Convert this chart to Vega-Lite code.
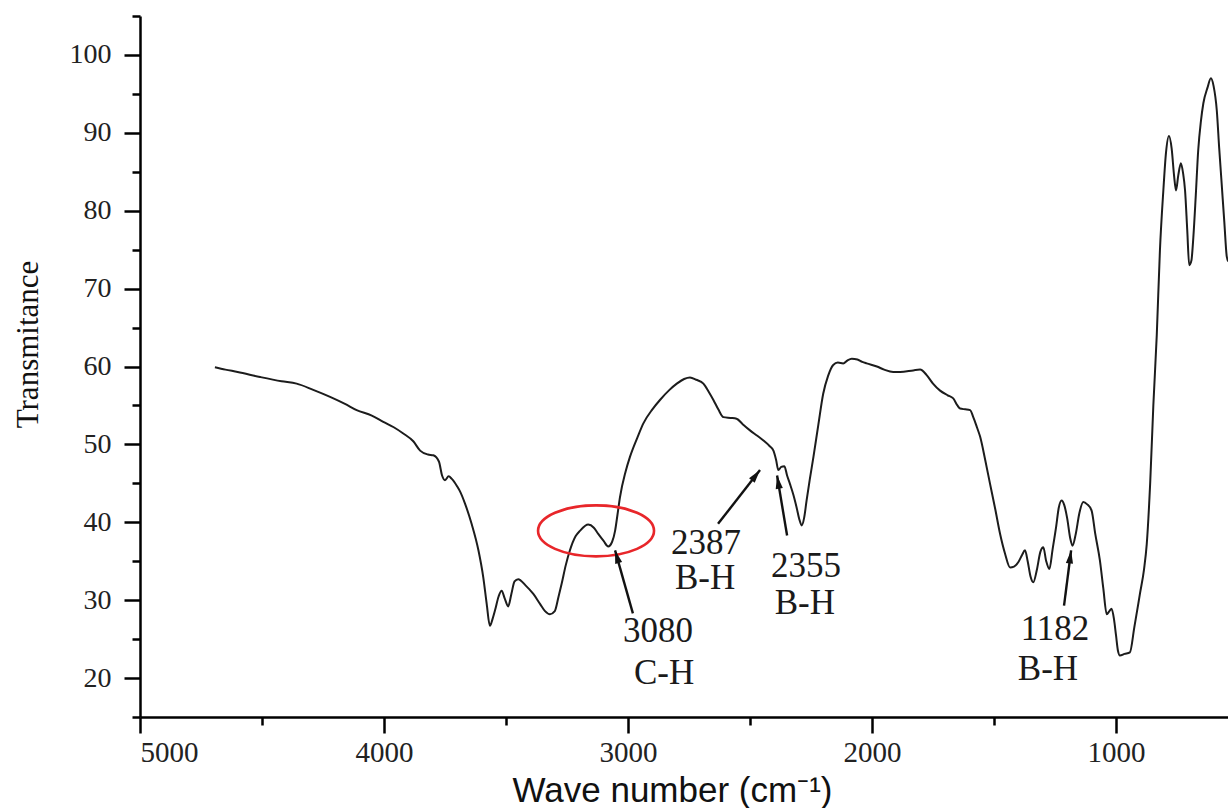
{
  "$schema": "https://vega.github.io/schema/vega-lite/v6.json",
  "autosize": "none",
  "width": 1088,
  "height": 701,
  "padding": {"left": 140, "top": 16, "right": 0, "bottom": 91},
  "background": "white",
  "config": {
    "view": {"stroke": null},
    "axis": {"grid": false, "domainColor": "#000", "domainWidth": 2.5, "tickColor": "#000", "tickWidth": 2.5, "labelColor": "#222", "titleColor": "#111"}
  },
  "datasets": {
    "spectrum": [
      {"wn": 4693, "T": 59.9}, {"wn": 4650, "T": 59.6}, {"wn": 4600, "T": 59.3}, {"wn": 4508, "T": 58.65},
      {"wn": 4420, "T": 58.1}, {"wn": 4358, "T": 57.8}, {"wn": 4290, "T": 57.0}, {"wn": 4221, "T": 56.1},
      {"wn": 4160, "T": 55.2}, {"wn": 4112, "T": 54.4}, {"wn": 4050, "T": 53.7}, {"wn": 4003, "T": 52.9},
      {"wn": 3960, "T": 52.2}, {"wn": 3921, "T": 51.4}, {"wn": 3880, "T": 50.4}, {"wn": 3852, "T": 49.2},
      {"wn": 3820, "T": 48.7}, {"wn": 3798, "T": 48.6}, {"wn": 3775, "T": 47.8}, {"wn": 3762, "T": 46.0},
      {"wn": 3750, "T": 45.4}, {"wn": 3735, "T": 45.9}, {"wn": 3723, "T": 45.6}, {"wn": 3700, "T": 44.6},
      {"wn": 3689, "T": 44.0}, {"wn": 3668, "T": 42.4}, {"wn": 3641, "T": 39.8}, {"wn": 3613, "T": 36.4},
      {"wn": 3593, "T": 32.9}, {"wn": 3579, "T": 29.5}, {"wn": 3566, "T": 26.7}, {"wn": 3555, "T": 27.6},
      {"wn": 3545, "T": 28.7}, {"wn": 3530, "T": 30.5}, {"wn": 3518, "T": 31.2}, {"wn": 3505, "T": 30.2},
      {"wn": 3491, "T": 29.2}, {"wn": 3478, "T": 30.8}, {"wn": 3465, "T": 32.4}, {"wn": 3450, "T": 32.7},
      {"wn": 3420, "T": 31.9}, {"wn": 3388, "T": 30.8}, {"wn": 3360, "T": 29.5}, {"wn": 3340, "T": 28.6},
      {"wn": 3320, "T": 28.2}, {"wn": 3300, "T": 28.6}, {"wn": 3285, "T": 30.4}, {"wn": 3272, "T": 32.1},
      {"wn": 3255, "T": 34.5}, {"wn": 3238, "T": 36.4}, {"wn": 3215, "T": 38.2}, {"wn": 3197, "T": 38.9},
      {"wn": 3163, "T": 39.7}, {"wn": 3140, "T": 39.3}, {"wn": 3122, "T": 38.5}, {"wn": 3100, "T": 37.6},
      {"wn": 3081, "T": 36.9}, {"wn": 3065, "T": 37.5}, {"wn": 3053, "T": 38.9}, {"wn": 3043, "T": 41.0},
      {"wn": 3033, "T": 43.2}, {"wn": 3010, "T": 46.5}, {"wn": 2992, "T": 48.4}, {"wn": 2960, "T": 51.0},
      {"wn": 2937, "T": 52.7}, {"wn": 2900, "T": 54.5}, {"wn": 2869, "T": 55.7}, {"wn": 2830, "T": 57.0},
      {"wn": 2800, "T": 57.8}, {"wn": 2770, "T": 58.4}, {"wn": 2746, "T": 58.6}, {"wn": 2720, "T": 58.3},
      {"wn": 2691, "T": 57.8}, {"wn": 2670, "T": 56.8}, {"wn": 2650, "T": 55.7}, {"wn": 2630, "T": 54.5},
      {"wn": 2609, "T": 53.5}, {"wn": 2580, "T": 53.4}, {"wn": 2555, "T": 53.3}, {"wn": 2530, "T": 52.6},
      {"wn": 2500, "T": 51.8}, {"wn": 2470, "T": 51.1}, {"wn": 2445, "T": 50.5}, {"wn": 2420, "T": 49.8},
      {"wn": 2404, "T": 49.2}, {"wn": 2393, "T": 48.0}, {"wn": 2384, "T": 46.7}, {"wn": 2372, "T": 47.1},
      {"wn": 2359, "T": 47.2}, {"wn": 2348, "T": 46.0}, {"wn": 2336, "T": 44.9}, {"wn": 2322, "T": 43.5},
      {"wn": 2309, "T": 41.9}, {"wn": 2298, "T": 40.4}, {"wn": 2288, "T": 39.6}, {"wn": 2278, "T": 40.6},
      {"wn": 2268, "T": 42.8}, {"wn": 2255, "T": 45.5}, {"wn": 2240, "T": 48.4}, {"wn": 2220, "T": 52.5},
      {"wn": 2200, "T": 56.5}, {"wn": 2180, "T": 58.8}, {"wn": 2159, "T": 60.2}, {"wn": 2140, "T": 60.5},
      {"wn": 2118, "T": 60.4}, {"wn": 2100, "T": 60.8}, {"wn": 2083, "T": 61.0}, {"wn": 2060, "T": 60.9},
      {"wn": 2040, "T": 60.6}, {"wn": 2022, "T": 60.4}, {"wn": 1980, "T": 60.0}, {"wn": 1950, "T": 59.6},
      {"wn": 1913, "T": 59.3}, {"wn": 1885, "T": 59.3}, {"wn": 1831, "T": 59.5}, {"wn": 1803, "T": 59.6},
      {"wn": 1776, "T": 58.9}, {"wn": 1750, "T": 57.8}, {"wn": 1721, "T": 56.9}, {"wn": 1690, "T": 56.3},
      {"wn": 1667, "T": 55.9}, {"wn": 1650, "T": 55.0}, {"wn": 1639, "T": 54.6}, {"wn": 1618, "T": 54.5},
      {"wn": 1598, "T": 54.4}, {"wn": 1585, "T": 53.5}, {"wn": 1570, "T": 52.2}, {"wn": 1557, "T": 51.0},
      {"wn": 1536, "T": 48.0}, {"wn": 1516, "T": 44.9}, {"wn": 1495, "T": 41.7}, {"wn": 1475, "T": 38.5},
      {"wn": 1455, "T": 36.0}, {"wn": 1434, "T": 34.2}, {"wn": 1418, "T": 34.3}, {"wn": 1400, "T": 34.9},
      {"wn": 1385, "T": 35.8}, {"wn": 1373, "T": 36.4}, {"wn": 1362, "T": 35.0}, {"wn": 1350, "T": 33.0},
      {"wn": 1339, "T": 32.3}, {"wn": 1325, "T": 33.8}, {"wn": 1310, "T": 36.2}, {"wn": 1298, "T": 36.8},
      {"wn": 1286, "T": 35.0}, {"wn": 1273, "T": 34.0}, {"wn": 1260, "T": 36.5}, {"wn": 1245, "T": 39.5},
      {"wn": 1235, "T": 41.8}, {"wn": 1223, "T": 42.8}, {"wn": 1212, "T": 42.2}, {"wn": 1200, "T": 40.5},
      {"wn": 1188, "T": 38.0}, {"wn": 1178, "T": 37.0}, {"wn": 1165, "T": 38.5}, {"wn": 1150, "T": 41.2},
      {"wn": 1134, "T": 42.6}, {"wn": 1118, "T": 42.3}, {"wn": 1100, "T": 41.5}, {"wn": 1085, "T": 38.5},
      {"wn": 1066, "T": 35.1}, {"wn": 1052, "T": 31.5}, {"wn": 1038, "T": 28.2}, {"wn": 1027, "T": 28.6},
      {"wn": 1018, "T": 28.9}, {"wn": 1008, "T": 27.5}, {"wn": 1000, "T": 25.5}, {"wn": 992, "T": 23.5},
      {"wn": 984, "T": 22.9}, {"wn": 965, "T": 23.1}, {"wn": 943, "T": 23.3}, {"wn": 925, "T": 26.5},
      {"wn": 902, "T": 30.8}, {"wn": 885, "T": 34.0}, {"wn": 874, "T": 37.2}, {"wn": 860, "T": 45.0},
      {"wn": 847, "T": 55.0}, {"wn": 833, "T": 64.0}, {"wn": 820, "T": 74.9}, {"wn": 806, "T": 82.6},
      {"wn": 795, "T": 87.5}, {"wn": 783, "T": 89.6}, {"wn": 772, "T": 88.0}, {"wn": 762, "T": 84.5},
      {"wn": 754, "T": 82.6}, {"wn": 745, "T": 84.5}, {"wn": 734, "T": 86.1}, {"wn": 725, "T": 84.8},
      {"wn": 717, "T": 82.6}, {"wn": 708, "T": 77.5}, {"wn": 700, "T": 73.0}, {"wn": 691, "T": 73.6},
      {"wn": 683, "T": 76.6}, {"wn": 673, "T": 82.0}, {"wn": 663, "T": 87.8}, {"wn": 652, "T": 91.5},
      {"wn": 642, "T": 93.8}, {"wn": 625, "T": 95.8}, {"wn": 611, "T": 97.0}, {"wn": 600, "T": 96.0},
      {"wn": 587, "T": 92.9}, {"wn": 577, "T": 88.0}, {"wn": 567, "T": 83.5}, {"wn": 556, "T": 78.5},
      {"wn": 546, "T": 74.1}, {"wn": 540, "T": 73.5}
    ],
    "arrows": [
      {"wn": 3053, "T": 36.4, "tailwn": 2980, "tailT": 28.3},
      {"wn": 2459, "T": 46.7, "tailwn": 2631, "tailT": 39.8},
      {"wn": 2389, "T": 46.0, "tailwn": 2348, "tailT": 38.3},
      {"wn": 1184, "T": 36.4, "tailwn": 1213, "tailT": 29.3}
    ],
    "labels": [
      {"wn": 2877, "T": 26.1, "label": "3080"},
      {"wn": 2852, "T": 20.7, "label": "C-H"},
      {"wn": 2680, "T": 37.4, "label": "2387"},
      {"wn": 2684, "T": 32.9, "label": "B-H"},
      {"wn": 2270, "T": 34.4, "label": "2355"},
      {"wn": 2275, "T": 29.7, "label": "B-H"},
      {"wn": 1250, "T": 26.3, "label": "1182"},
      {"wn": 1279, "T": 21.2, "label": "B-H"}
    ],
    "highlight": [
      {"wn": 3131, "T": 38.9}
    ]
  },
  "encoding": {
    "x": {
      "field": "wn", "type": "quantitative",
      "scale": {"domain": [5000, 541], "nice": false, "zero": false},
      "axis": {
        "title": "Wave number (cm⁻¹)",
        "values": [5000, 4500, 4000, 3500, 3000, 2500, 2000, 1500, 1000],
        "tickSize": {"condition": {"test": "datum.value % 1000 === 0", "value": 16}, "value": 8},
        "labelExpr": "datum.value % 1000 === 0 ? datum.label : ''",
        "format": "d",
        "labelFont": "Liberation Serif", "labelFontSize": 29, "labelPadding": 5,
        "titleFont": "Liberation Sans", "titleFontSize": 35, "titleFontWeight": "normal",
        "titleX": 532, "titleY": 84, "titleAlign": "center", "titleBaseline": "alphabetic"
      }
    },
    "y": {
      "field": "T", "type": "quantitative",
      "scale": {"domain": [15, 105], "nice": false, "zero": false},
      "axis": {
        "title": "Transmitance",
        "values": [15, 20, 25, 30, 35, 40, 45, 50, 55, 60, 65, 70, 75, 80, 85, 90, 95, 100, 105],
        "tickSize": {"condition": {"test": "datum.value % 10 === 0", "value": 16}, "value": 8},
        "labelExpr": "datum.value % 10 === 0 ? datum.label : ''",
        "labelFont": "Liberation Serif", "labelFontSize": 28, "labelPadding": 13,
        "titleFont": "Liberation Serif", "titleFontSize": 31, "titleFontWeight": "normal",
        "titleX": -112, "titleY": 328, "titleAngle": -90, "titleAlign": "center", "titleBaseline": "middle"
      }
    }
  },
  "layer": [
    {
      "data": {"name": "spectrum"},
      "mark": {"type": "line", "color": "#1c1c1c", "strokeWidth": 2, "clip": true, "interpolate": "monotone"}
    },
    {
      "data": {"name": "highlight"},
      "mark": {"type": "point", "shape": "M -1 0 A 1 0.44 0 1 0 1 0 A 1 0.44 0 1 0 -1 0 Z", "size": 13456, "filled": false, "stroke": "#e8262a", "strokeWidth": 2.6, "opacity": 1}
    },
    {
      "data": {"name": "arrows"},
      "mark": {"type": "rule", "color": "#111", "strokeWidth": 2.4},
      "encoding": {
        "x2": {"field": "tailwn"},
        "y2": {"field": "tailT"}
      }
    },
    {
      "data": {"name": "arrows"},
      "mark": {"type": "point", "shape": "M 0 0 L 0.6 2.2 L -0.6 2.2 Z", "size": 144, "filled": true, "color": "#111", "opacity": 1,
        "angle": {"expr": "atan2(scale('x', datum.wn) - scale('x', datum.tailwn), scale('y', datum.tailT) - scale('y', datum.T)) * 180 / PI"}}
    },
    {
      "data": {"name": "labels"},
      "mark": {"type": "text", "font": "Liberation Serif", "fontSize": 35, "color": "#1a1a1a", "align": "center", "baseline": "middle"},
      "encoding": {
        "text": {"field": "label"}
      }
    }
  ]
}
